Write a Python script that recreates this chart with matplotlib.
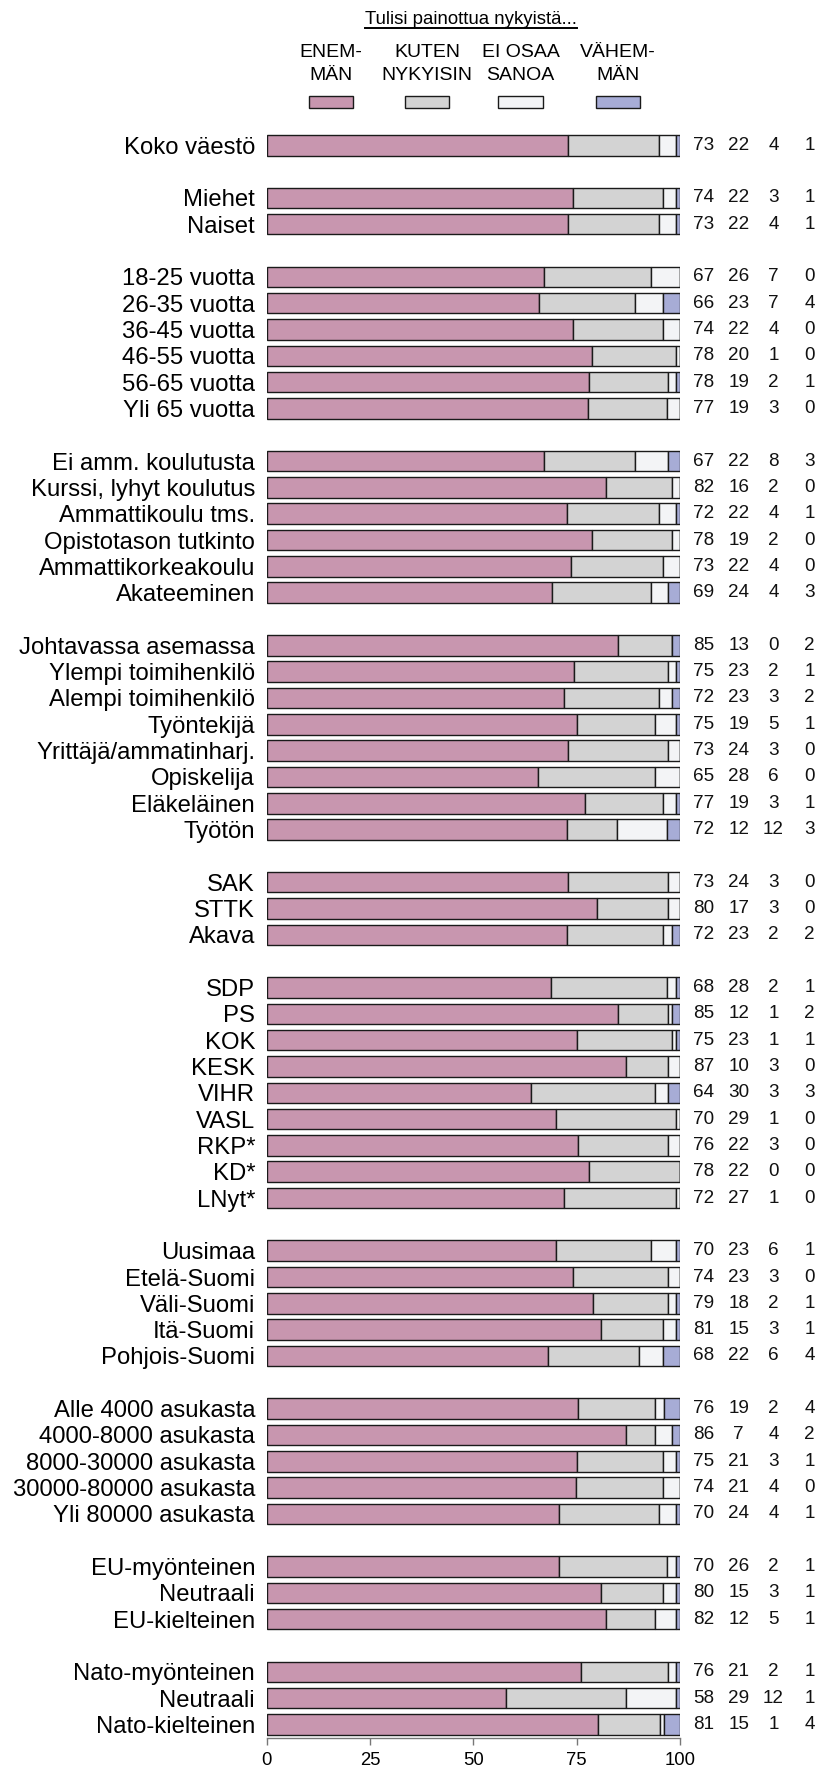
import matplotlib
matplotlib.use("Agg")
import matplotlib.pyplot as plt
from matplotlib.patches import Rectangle
from matplotlib.lines import Line2D

plt.rcParams["font.family"] = ["Liberation Sans", "DejaVu Sans"]

# groups of categories, a blank row is left between groups
groups = [
    ["Koko väestö"],
    ["Miehet", "Naiset"],
    ["18-25 vuotta", "26-35 vuotta", "36-45 vuotta", "46-55 vuotta",
     "56-65 vuotta", "Yli 65 vuotta"],
    ["Ei amm. koulutusta", "Kurssi, lyhyt koulutus", "Ammattikoulu tms.",
     "Opistotason tutkinto", "Ammattikorkeakoulu", "Akateeminen"],
    ["Johtavassa asemassa", "Ylempi toimihenkilö", "Alempi toimihenkilö",
     "Työntekijä", "Yrittäjä/ammatinharj.", "Opiskelija", "Eläkeläinen",
     "Työtön"],
    ["SAK", "STTK", "Akava"],
    ["SDP", "PS", "KOK", "KESK", "VIHR", "VASL", "RKP*", "KD*", "LNyt*"],
    ["Uusimaa", "Etelä-Suomi", "Väli-Suomi", "Itä-Suomi", "Pohjois-Suomi"],
    ["Alle 4000 asukasta", "4000-8000 asukasta", "8000-30000 asukasta",
     "30000-80000 asukasta", "Yli 80000 asukasta"],
    ["EU-myönteinen", "Neutraali", "EU-kielteinen"],
    ["Nato-myönteinen", "Neutraali", "Nato-kielteinen"],
]

enemman = [73, 74, 73, 67, 66, 74, 78, 78, 77, 67, 82, 72, 78, 73, 69,
           85, 75, 72, 75, 73, 65, 77, 72, 73, 80, 72, 68, 85, 75, 87, 64,
           70, 76, 78, 72, 70, 74, 79, 81, 68, 76, 86, 75, 74, 70, 70, 80,
           82, 76, 58, 81]
kuten = [22, 22, 22, 26, 23, 22, 20, 19, 19, 22, 16, 22, 19, 22, 24,
         13, 23, 23, 19, 24, 28, 19, 12, 24, 17, 23, 28, 12, 23, 10, 30,
         29, 22, 22, 27, 23, 23, 18, 15, 22, 19, 7, 21, 21, 24, 26, 15,
         12, 21, 29, 15]
eos = [4, 3, 4, 7, 7, 4, 1, 2, 3, 8, 2, 4, 2, 4, 4,
       0, 2, 3, 5, 3, 6, 3, 12, 3, 3, 2, 2, 1, 1, 3, 3,
       1, 3, 0, 1, 6, 3, 2, 3, 6, 2, 4, 3, 4, 4, 2, 3,
       5, 2, 12, 1]
vahemman = [1, 1, 1, 0, 4, 0, 0, 1, 0, 3, 0, 1, 0, 0, 3,
            2, 1, 2, 1, 0, 0, 1, 3, 0, 0, 2, 1, 2, 1, 0, 3,
            0, 0, 0, 0, 1, 0, 1, 1, 4, 4, 2, 1, 0, 1, 1, 1,
            1, 1, 1, 4]

series_names = ["ENEM-\nMÄN", "KUTEN\nNYKYISIN", "EI OSAA\nSANOA", "VÄHEM-\nMÄN"]
colors = ["#c896af", "#d3d3d3", "#f3f4f6", "#a7acd6"]

# row positions
labels = []
ypos = []
row = 0
for g in groups:
    for name in g:
        labels.append(name)
        ypos.append(row)
        row += 1
    row += 1

W, H = 819, 1767
fig = plt.figure(figsize=(W / 100, H / 100), dpi=100)
ax_left, ax_right = 266.7, 680.0
ax_top, ax_bot = 130.8, 1738.4
ax = fig.add_axes([ax_left / W, 1 - ax_bot / H, (ax_right - ax_left) / W,
                   (ax_bot - ax_top) / H])

series = [enemman, kuten, eos, vahemman]
for i, y in enumerate(ypos):
    vals = [s[i] for s in series]
    tot = sum(vals)
    left = 0
    for v, c in zip(vals, colors):
        w = v / tot * 100
        ax.barh(y, w, left=left, height=0.78, color=c, edgecolor="#1a1a1a",
                linewidth=1.0)
        left += w
    # number columns
    for v, xx in zip(vals, [105.8, 114.2, 122.6, 131.3]):
        ax.text(xx, y, str(v), ha="center", va="center", fontsize=13.6,
                color="#111111", clip_on=False)

ax.set_xlim(0, 100)
ax.set_ylim(ypos[-1] + 0.53, -0.55)
ax.set_yticks(ypos)
ax.set_yticklabels(labels, fontsize=17.2)
ax.tick_params(axis="y", length=0, pad=8.4)
ax.set_xticks([0, 25, 50, 75, 100])
ax.tick_params(axis="x", length=5, width=1, color="#777777", pad=4.5,
               labelsize=13.3)
for side in ["left", "right", "top"]:
    ax.spines[side].set_visible(False)
ax.spines["bottom"].set_color("#777777")
ax.spines["bottom"].set_linewidth(1)

# legend header
title = fig.text(471 / W, 1 - 19 / H, "Tulisi painottua nykyistä...",
                 ha="center", va="center", fontsize=13.4)
fig.canvas.draw()
bb = title.get_window_extent()
fig.add_artist(Line2D([bb.x0 / W, bb.x1 / W], [1 - 28.5 / H, 1 - 28.5 / H],
                      transform=fig.transFigure, color="black", linewidth=1.4))

legend_x = [331, 427, 520.5, 618]
for name, c, lx in zip(series_names, colors, legend_x):
    fig.text(lx / W, 1 - 64 / H, name, ha="center", va="center",
             fontsize=14, linespacing=1.4)
    fig.add_artist(Rectangle(((lx - 22) / W, 1 - 108 / H), 44 / W, 12 / H,
                             transform=fig.transFigure, facecolor=c,
                             edgecolor="#1a1a1a", linewidth=1.0))

fig.savefig("out.png", dpi=100)
